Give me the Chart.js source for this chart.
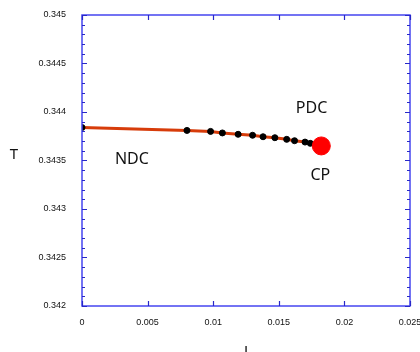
<!DOCTYPE html>
<html>
<head>
<meta charset="utf-8">
<script src="https://cdn.jsdelivr.net/npm/chart.js@4"></script>
<style>
  html, body { margin: 0; padding: 0; background: #fff; }
  #wrap { width: 420px; height: 352px; }
</style>
</head>
<body>
<div id="wrap"><canvas id="chart"></canvas></div>
<script>
// data
var jValues = [0, 0.0080, 0.0098, 0.0107, 0.0119, 0.0130, 0.0138, 0.0147, 0.0156, 0.0162, 0.0170, 0.0174];
var tValues = [0.34384, 0.34381, 0.34380, 0.343784, 0.34377, 0.34376, 0.343745, 0.343735, 0.343718, 0.343704, 0.34369, 0.343677];
var cpPoint = { x: 0.01824, y: 0.34365 };

var labels = [
  { text: 'PDC', x: 0.0175, y: 0.34404 },
  { text: 'NDC', x: 0.0038, y: 0.34351 },
  { text: 'CP',  x: 0.01817, y: 0.34335 }
];

var frameColor = 'rgb(70, 70, 240)';
var tickColor = 'rgb(40, 40, 200)';

// frame, inward ticks and free text
var decor = {
  id: 'decor',
  afterDraw: function (chart) {
    var ctx = chart.ctx;
    var a = chart.chartArea;
    var xs = chart.scales.x, ys = chart.scales.y;
    ctx.save();
    ctx.strokeStyle = frameColor;
    ctx.lineWidth = 1.5;
    ctx.strokeRect(a.left, a.top, a.right - a.left, a.bottom - a.top);

    ctx.strokeStyle = tickColor;
    ctx.lineWidth = 1.2;
    ctx.beginPath();
    for (var v = 0; v <= 0.025 + 1e-9; v += 0.005) {
      var px = Math.round(xs.getPixelForValue(v)) + 0.5;
      ctx.moveTo(px, a.bottom); ctx.lineTo(px, a.bottom - 5);
      ctx.moveTo(px, a.top); ctx.lineTo(px, a.top + 5);
    }
    for (var i = 0; i <= 30; i++) {
      var t = 0.342 + i * 0.0001;
      var py = Math.round(ys.getPixelForValue(t)) + 0.5;
      var len = (i % 5 === 0) ? 5 : 3;
      ctx.moveTo(a.left, py); ctx.lineTo(a.left + len, py);
      ctx.moveTo(a.right, py); ctx.lineTo(a.right - len, py);
    }
    ctx.stroke();

    ctx.fillStyle = '#111';
    ctx.textAlign = 'center';
    ctx.textBaseline = 'middle';
    ctx.font = '16px "Noto Sans"';
    labels.forEach(function (l) {
      ctx.fillText(l.text, xs.getPixelForValue(l.x), ys.getPixelForValue(l.y));
    });
    ctx.font = '15px "Noto Sans"';
    ctx.fillText('T', 14, 155);
    ctx.textBaseline = 'top';
    ctx.fillText('J', (a.left + a.right) / 2, 344);
    ctx.restore();
  }
};

new Chart(document.getElementById('chart'), {
  type: 'scatter',
  data: {
    datasets: [
      {
        label: 'CP',
        data: [cpPoint],
        backgroundColor: 'rgb(255, 0, 0)',
        borderColor: 'rgb(255, 0, 0)',
        pointRadius: 9,
        order: 0
      },
      {
        label: 'points',
        data: jValues.map(function (j, i) { return { x: j, y: tValues[i] }; }),
        backgroundColor: '#000',
        borderColor: '#000',
        pointRadius: 3,
        order: 1
      },
      {
        label: 'line',
        data: jValues.map(function (j, i) { return { x: j, y: tValues[i] }; }).concat([cpPoint]),
        showLine: true,
        borderColor: 'rgb(215, 60, 10)',
        borderWidth: 3,
        pointRadius: 0,
        order: 2
      }
    ]
  },
  options: {
    responsive: true,
    maintainAspectRatio: false,
    animation: false,
    layout: { padding: { left: 0, right: 10, top: 15, bottom: 0 } },
    plugins: { legend: { display: false }, tooltip: { enabled: false } },
    scales: {
      x: {
        type: 'linear',
        min: 0, max: 0.025,
        grid: { display: false },
        border: { display: false },
        ticks: {
          stepSize: 0.005,
          padding: 3,
          color: '#111',
          font: { family: 'Liberation Sans', size: 9 },
          maxRotation: 0,
          callback: function (v) { return String(+v.toFixed(4)); }
        },
        afterFit: function (s) { s.height = 46; s.paddingRight = 0; }
      },
      y: {
        type: 'linear',
        min: 0.342, max: 0.345,
        grid: { display: false },
        border: { display: false },
        ticks: {
          stepSize: 0.0005,
          padding: 8,
          color: '#111',
          font: { family: 'Liberation Sans', size: 9 },
          callback: function (v) { return String(+v.toFixed(4)); }
        },
        afterFit: function (s) { s.width = 82; }
      }
    }
  },
  plugins: [decor]
});
</script>
</body>
</html>
